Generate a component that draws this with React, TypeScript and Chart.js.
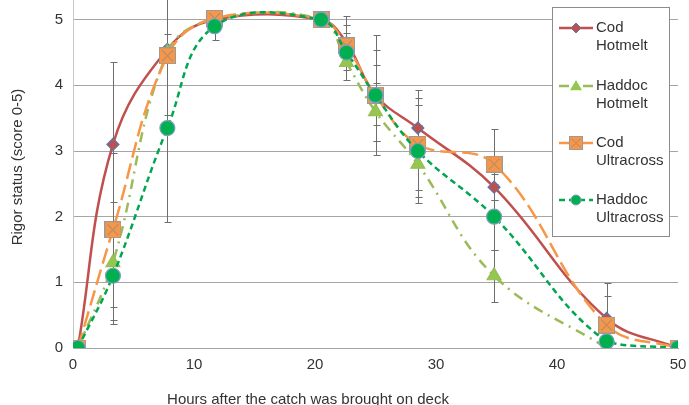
import React, { useEffect, useRef } from "react";
import { Chart, registerables } from "chart.js";
Chart.register(...registerables);

const hours = [0.4, 3.3, 7.8, 11.7, 20.5, 22.6, 25.0, 28.5, 34.8, 44.1, 50];
const codHotmelt = [0, 3.1, 4.55, 5.0, 5.0, 4.65, 3.85, 3.35, 2.45, 0.45, 0];
const haddocHotmelt = [0, 1.3, 4.5, 5.0, 5.0, 4.35, 3.6, 2.8, 1.1, 0, null];
const codUltracross = [0, 1.8, 4.45, 5.02, 5.0, 4.6, 3.85, 3.1, 2.8, 0.35, 0];
const haddocUltracross = [0, 1.1, 3.35, 4.9, 5.0, 4.5, 3.85, 3.0, 2.0, 0.1, 0];

const errCodHotmelt = [0, 1.26, 1.0, 0, 0, 0.41, 0.91, 0.58, 0.2, 0.54, 0];
const errHaddocHotmelt = [0, 0.93, 0, 0, 0, 0, 0.44, 0.59, 0.4, 0, 0];
const errCodUltracross = [0, 1.17, 0, 0, 0, 0.2, 0.69, 0.7, 0.54, 0.44, 0];
const errHaddocUltracross = [0, 0.67, 1.43, 0.21, 0, 0.42, 0.46, 0.7, 0.5, 0, 0];

const seriesNames = [
  ["Cod", "Hotmelt"],
  ["Haddoc", "Hotmelt"],
  ["Cod", "Ultracross"],
  ["Haddoc", "Ultracross"],
];
const xTitle = "Hours after the catch was brought on deck";
const yTitle = "Rigor status (score 0-5)";

const FONT = "'Liberation Sans', Arial, sans-serif";

function makeSquareImage(): HTMLCanvasElement {
  const c = document.createElement("canvas");
  c.width = 17;
  c.height = 17;
  const g = c.getContext("2d")!;
  g.fillStyle = "#F79646";
  g.fillRect(0.5, 0.5, 16, 16);
  g.strokeStyle = "#9a9a9a";
  g.lineWidth = 1;
  g.strokeRect(0.5, 0.5, 16, 16);
  g.beginPath();
  g.moveTo(3, 3);
  g.lineTo(14, 14);
  g.moveTo(14, 3);
  g.lineTo(3, 14);
  g.strokeStyle = "#8a8a8a";
  g.stroke();
  return c;
}

export default function App() {
  const ref = useRef<HTMLCanvasElement>(null);
  useEffect(() => {
    const sq = makeSquareImage();
    const toPts = (arr: (number | null)[]) =>
      hours.map((h, i) => ({ x: h, y: arr[i] })).filter((p) => p.y !== null);

    const styles = [
      { color: "#C0504D", dash: [] as number[], width: 2.5, point: "rectRot", pfill: "#C0504D", pborder: "#5A78A8", radius: 6 },
      { color: "#9BBB59", dash: [10, 6, 2, 6], width: 2.5, point: "triangle", pfill: "#92C84E", pborder: "#9BBB59", radius: 8 },
      { color: "#F79646", dash: [16, 6], width: 2.5, point: sq as any, pfill: "#F79646", pborder: "#9a9a9a", radius: 8 },
      { color: "#00A651", dash: [6, 4], width: 2.5, point: "circle", pfill: "#00B050", pborder: "#7F9FBF", radius: 7.5 },
    ];
    const datas = [codHotmelt, haddocHotmelt, codUltracross, haddocUltracross];
    const errs = [errCodHotmelt, errHaddocHotmelt, errCodUltracross, errHaddocUltracross];
    const orders = [3, 2, 1, 0];

    const errorBars = {
      id: "errorBars",
      beforeDatasetsDraw(chart: any) {
        const { ctx, chartArea, scales } = chart;
        ctx.save();
        ctx.beginPath();
        ctx.rect(chartArea.left, chartArea.top, chartArea.right - chartArea.left, chartArea.bottom - chartArea.top);
        ctx.clip();
        ctx.strokeStyle = "#6e6e6e";
        ctx.lineWidth = 1;
        datas.forEach((d, si) => {
          d.forEach((v, i) => {
            const e = errs[si][i];
            if (v === null || !e) return;
            const x = Math.round(scales.x.getPixelForValue(hours[i])) + 0.5;
            const y1 = Math.round(scales.y.getPixelForValue(v + e)) + 0.5;
            const y2 = Math.round(scales.y.getPixelForValue(v - e)) + 0.5;
            ctx.beginPath();
            ctx.moveTo(x, y1);
            ctx.lineTo(x, y2);
            ctx.moveTo(x - 3, y1);
            ctx.lineTo(x + 4, y1);
            ctx.moveTo(x - 3, y2);
            ctx.lineTo(x + 4, y2);
            ctx.stroke();
          });
        });
        ctx.restore();
      },
    };

    const drawMarker = (ctx: CanvasRenderingContext2D, si: number, x: number, y: number) => {
      const s = styles[si];
      ctx.save();
      ctx.setLineDash([]);
      ctx.fillStyle = s.pfill;
      ctx.strokeStyle = s.pborder;
      ctx.lineWidth = 1;
      if (si === 0) {
        const r = 5;
        ctx.beginPath();
        ctx.moveTo(x, y - r);
        ctx.lineTo(x + r, y);
        ctx.lineTo(x, y + r);
        ctx.lineTo(x - r, y);
        ctx.closePath();
        ctx.fill();
        ctx.stroke();
      } else if (si === 1) {
        const r = 6;
        ctx.beginPath();
        ctx.moveTo(x, y - r);
        ctx.lineTo(x + r, y + r * 0.7);
        ctx.lineTo(x - r, y + r * 0.7);
        ctx.closePath();
        ctx.fill();
      } else if (si === 2) {
        ctx.drawImage(sq, x - 7, y - 7, 14, 14);
      } else {
        ctx.beginPath();
        ctx.arc(x, y, 5, 0, Math.PI * 2);
        ctx.fill();
        ctx.stroke();
      }
      ctx.restore();
    };

    const extras = {
      id: "extras",
      afterDraw(chart: any) {
        const { ctx } = chart;
        ctx.save();
        ctx.fillStyle = "#333333";
        ctx.font = `15px ${FONT}`;
        ctx.textAlign = "center";
        ctx.textBaseline = "alphabetic";
        ctx.fillText(xTitle, 308, 404);
        ctx.save();
        ctx.translate(18, 167);
        ctx.rotate(-Math.PI / 2);
        ctx.textBaseline = "middle";
        ctx.fillText(yTitle, 0, 0);
        ctx.restore();

        ctx.fillStyle = "#ffffff";
        ctx.fillRect(552, 7, 118, 230);
        ctx.strokeStyle = "#8c8c8c";
        ctx.lineWidth = 1;
        ctx.strokeRect(552.5, 7.5, 117, 229);
        const ys = [28, 86, 143, 200];
        seriesNames.forEach((nm, si) => {
          const y = ys[si];
          const s = styles[si];
          ctx.save();
          ctx.strokeStyle = s.color;
          ctx.lineWidth = s.width;
          ctx.setLineDash(s.dash);
          ctx.beginPath();
          ctx.moveTo(559, y);
          ctx.lineTo(593, y);
          ctx.stroke();
          ctx.restore();
          drawMarker(ctx, si, 576, y);
          ctx.fillStyle = "#333333";
          ctx.font = `15px ${FONT}`;
          ctx.textAlign = "left";
          ctx.textBaseline = "middle";
          ctx.fillText(nm[0], 596, y);
          ctx.fillText(nm[1], 596, y + 18);
        });
        ctx.restore();
      },
    };

    const chart = new Chart(ref.current!, {
      type: "line",
      data: {
        datasets: datas.map((d, si) => ({
          label: seriesNames[si].join(" "),
          data: toPts(d),
          borderColor: styles[si].color,
          backgroundColor: styles[si].pfill,
          borderWidth: styles[si].width,
          borderDash: styles[si].dash,
          pointStyle: styles[si].point,
          pointRadius: styles[si].radius,
          pointBackgroundColor: styles[si].pfill,
          pointBorderColor: styles[si].pborder,
          pointBorderWidth: 1.2,
          tension: 0.4,
          fill: false,
          order: orders[si],
        })) as any,
      },
      options: {
        responsive: false,
        animation: false,
        devicePixelRatio: 1,
        layout: { autoPadding: false, padding: { left: 0, right: 11, top: 0, bottom: 0 } },
        plugins: { legend: { display: false }, tooltip: { enabled: false } },
        scales: {
          x: {
            type: "linear",
            min: 0,
            max: 50,
            ticks: { stepSize: 10, color: "#333333", font: { size: 15, family: FONT }, padding: 8, maxRotation: 0 },
            grid: { display: true, color: "rgba(0,0,0,0)", drawTicks: false },
            border: { display: true, color: "#a6a6a6", width: 1 },
            afterFit: (s: any) => {
              s.height = 57;
              s.paddingLeft = 0;
              s.paddingRight = 0;
            },
          },
          y: {
            type: "linear",
            min: 0,
            max: 5.3,
            ticks: { stepSize: 1, color: "#333333", font: { size: 15, family: FONT }, padding: 10 },
            afterBuildTicks: (axis: any) => {
              axis.ticks = axis.ticks.filter((t: any) => Number.isInteger(t.value));
            },
            grid: { color: "#a6a6a6", drawTicks: false },
            border: { display: true, color: "#c8c8c8", width: 1 },
            afterFit: (s: any) => {
              s.width = 73;
              s.paddingTop = 0;
              s.paddingBottom = 0;
            },
          },
        },
      },
      plugins: [errorBars, extras],
    });
    return () => chart.destroy();
  }, []);

  return (
    <div style={{ position: "fixed", left: 0, top: 0, width: 689, height: 405, background: "#ffffff" }}>
      <canvas ref={ref} width={689} height={405} />
    </div>
  );
}
